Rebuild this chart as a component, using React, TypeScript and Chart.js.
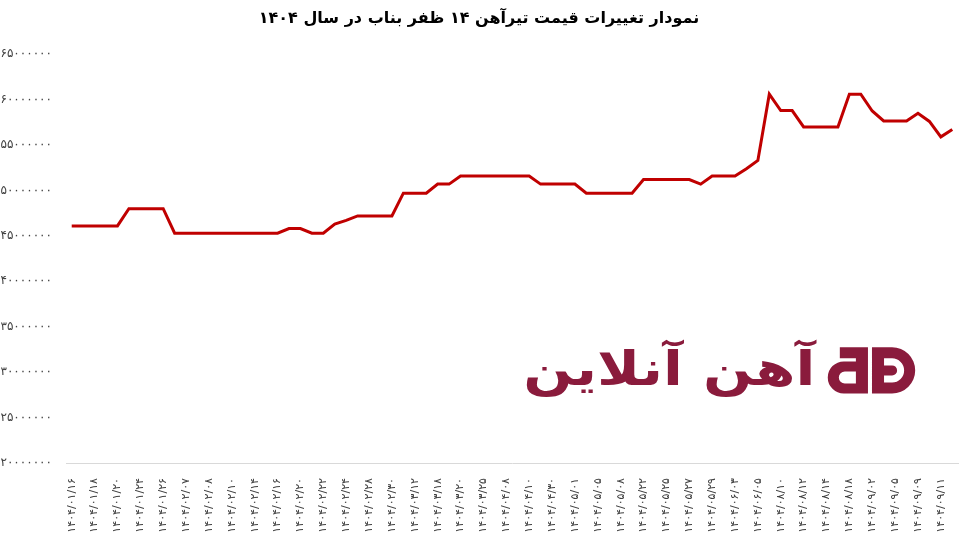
import { useEffect, useRef } from 'react';
import { Chart, registerables } from 'chart.js';

Chart.register(...registerables);

const titleText = 'نمودار تغییرات قیمت تیرآهن ۱۴ ظفر بناب در سال ۱۴۰۴';
const watermarkText = 'آهن آنلاین';

// Dates (every other one is shown on the axis)
const dates = [
  '1404/01/16', '1404/01/17', '1404/01/18', '1404/01/19', '1404/01/20', '1404/01/23',
  '1404/01/24', '1404/01/25', '1404/01/26', '1404/01/27', '1404/02/07', '1404/02/07',
  '1404/02/08', '1404/02/09', '1404/02/10', '1404/02/13', '1404/02/14', '1404/02/15',
  '1404/02/16', '1404/02/18', '1404/02/20', '1404/02/21', '1404/02/22', '1404/02/23',
  '1404/02/24', '1404/02/27', '1404/02/28', '1404/02/29', '1404/02/30', '1404/03/10',
  '1404/03/12', '1404/03/17', '1404/03/18', '1404/03/19', '1404/03/20', '1404/03/24',
  '1404/03/25', '1404/04/07', '1404/04/08', '1404/04/09', '1404/04/10', '1404/04/29',
  '1404/04/30', '1404/04/31', '1404/05/01', '1404/05/04', '1404/05/05', '1404/05/07',
  '1404/05/08', '1404/05/21', '1404/05/22', '1404/05/24', '1404/05/25', '1404/05/26',
  '1404/05/27', '1404/05/28', '1404/05/29', '1404/06/02', '1404/06/03', '1404/06/04',
  '1404/06/05', '1404/08/09', '1404/08/10', '1404/08/11', '1404/08/12', '1404/08/13',
  '1404/08/14', '1404/08/17', '1404/08/18', '1404/09/01', '1404/09/02', '1404/09/04',
  '1404/09/05', '1404/09/08', '1404/09/09', '1404/09/10', '1404/09/11', '1404/09/12',
];

// Price (Rial)
const prices = [
  46100000, 46100000, 46100000, 46100000, 46100000,
  48000000, 48000000, 48000000, 48000000,
  45300000, 45300000, 45300000, 45300000, 45300000, 45300000, 45300000, 45300000, 45300000, 45300000,
  45800000, 45800000,
  45300000, 45300000,
  46300000, 46700000,
  47200000, 47200000, 47200000, 47200000,
  49700000, 49700000, 49700000,
  50700000, 50700000,
  51600000, 51600000, 51600000, 51600000, 51600000, 51600000, 51600000,
  50700000, 50700000, 50700000, 50700000,
  49700000, 49700000, 49700000, 49700000, 49700000,
  51200000, 51200000, 51200000, 51200000, 51200000,
  50700000,
  51600000, 51600000, 51600000,
  52400000, 53300000,
  60600000,
  58800000, 58800000,
  57000000, 57000000, 57000000, 57000000,
  60600000, 60600000,
  58750000,
  57650000, 57650000, 57650000,
  58500000, 57600000, 55900000, 56700000,
];

const Y_MIN = 20000000;
const Y_MAX = 65000000;
const Y_STEP = 5000000;

const FA_DIGITS = '۰۱۲۳۴۵۶۷۸۹';
const toFa = (s: string) => s.replace(/\d/g, (d) => FA_DIGITS[Number(d)]);

const LINE_COLOR = '#c00000';
const MARK_COLOR = '#8a1b3c';
const FONT = '"DejaVu Sans", sans-serif';

const watermark = {
  id: 'watermark',
  beforeDatasetsDraw(chart: any) {
    const { ctx, chartArea: a } = chart;
    const w = a.right - a.left;
    const h = a.bottom - a.top;
    ctx.save();
    ctx.fillStyle = MARK_COLOR;
    ctx.font = `bold 50px ${FONT}`;
    ctx.textAlign = 'right';
    ctx.textBaseline = 'alphabetic';
    ctx.save();
    ctx.translate(a.left + w * 0.84, a.top + h * 0.808);
    ctx.scale(1.16, 0.95);
    ctx.fillText(watermarkText, 0, 0);
    ctx.restore();

    // logo
    const lx = a.left + w * 0.854;
    const ly = a.top + h * 0.717;
    const s = (w * 0.098) / 87;
    ctx.translate(lx, ly);
    ctx.scale(s, s);
    // left glyph
    ctx.beginPath();
    ctx.moveTo(12, 0);
    ctx.lineTo(40, 0);
    ctx.lineTo(40, 46);
    ctx.lineTo(16, 46);
    ctx.arc(16, 30, 16, Math.PI / 2, Math.PI * 1.5, false);
    ctx.lineTo(28, 14);
    ctx.lineTo(28, 11);
    ctx.lineTo(12, 11);
    ctx.closePath();
    ctx.moveTo(28, 24);
    ctx.lineTo(17, 24);
    ctx.arc(17, 30, 6, Math.PI * 1.5, Math.PI / 2, true);
    ctx.lineTo(28, 36);
    ctx.closePath();
    ctx.fill('evenodd');
    // right glyph (D)
    ctx.beginPath();
    ctx.moveTo(44, 0);
    ctx.lineTo(64, 0);
    ctx.arc(64, 23, 23, -Math.PI / 2, Math.PI / 2, false);
    ctx.lineTo(44, 46);
    ctx.closePath();
    ctx.moveTo(44, 18);
    ctx.lineTo(64, 18);
    ctx.arc(64, 23, 5, -Math.PI / 2, Math.PI / 2, false);
    ctx.lineTo(56, 28);
    ctx.lineTo(56, 35);
    ctx.lineTo(64, 35);
    ctx.arc(64, 23, 12, Math.PI / 2, -Math.PI / 2, true);
    ctx.lineTo(56, 11);
    ctx.lineTo(56, 18);
    ctx.closePath();
    ctx.fill('evenodd');
    ctx.restore();
  },
};

export default function App() {
  const ref = useRef<HTMLCanvasElement | null>(null);

  useEffect(() => {
    document.body.style.margin = '0';
    if (!ref.current) return;
    const chart = new Chart(ref.current, {
      type: 'line',
      data: {
        labels: dates,
        datasets: [
          {
            data: prices,
            borderColor: LINE_COLOR,
            borderWidth: 3,
            pointRadius: 0,
            tension: 0,
            fill: false,
          },
        ],
      },
      options: {
        responsive: false,
        animation: false,
        layout: { padding: { left: 0, right: 3, top: 0, bottom: 0 } },
        plugins: {
          legend: { display: false },
          tooltip: { enabled: false },
          title: {
            display: true,
            text: titleText,
            color: '#000000',
            font: { family: FONT, size: 16, weight: 'bold' },
            padding: { top: 9, bottom: 26 },
          },
        },
        scales: {
          x: {
            offset: true,
            grid: { display: false, drawTicks: false },
            border: { display: true, color: '#d9d9d9', width: 1 },
            ticks: {
              autoSkip: false,
              maxRotation: 90,
              minRotation: 90,
              padding: 15,
              color: '#404040',
              font: { family: FONT, size: 11 },
              callback: (_v: any, i: number) => (i % 2 === 0 ? toFa(dates[i]) : ''),
            },
            afterFit: (scale: any) => {
              scale.height = 75;
              scale.paddingRight = 0;
              scale.paddingLeft = 0;
            },
          },
          y: {
            min: Y_MIN,
            max: Y_MAX,
            grid: { display: false, drawTicks: false },
            border: { display: false },
            ticks: {
              stepSize: Y_STEP,
              padding: 14,
              color: '#404040',
              font: { family: FONT, size: 12 },
              callback: (v: any) => toFa(String(v)),
            },
            afterFit: (scale: any) => {
              scale.width = 66;
            },
          },
        },
      },
      plugins: [watermark],
    });
    return () => chart.destroy();
  }, []);

  return <canvas ref={ref} width={961} height={538} style={{ display: 'block' }} />;
}
